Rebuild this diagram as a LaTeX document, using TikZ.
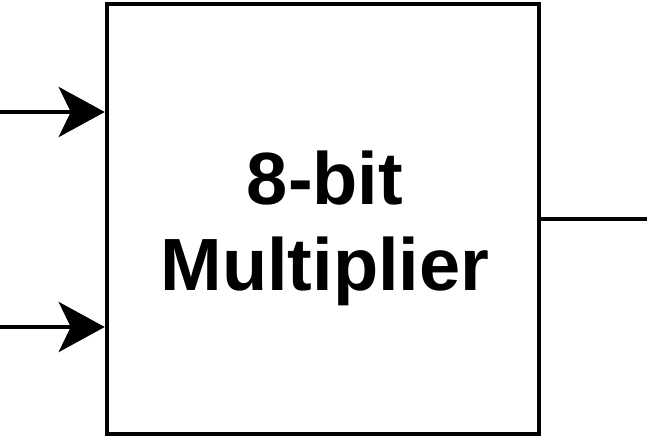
\documentclass[tikz,border=0pt]{standalone}
\usepackage{fontspec}
\setmainfont{Liberation Sans}
\usetikzlibrary{arrows.meta}
\begin{document}
\begin{tikzpicture}[x=1pt,y=-1pt,
  wire/.style={line width=4.5pt},
  inarrow/.style={wire,-{Stealth[length=46pt,width=50pt,inset=12pt]}},
  block/.style={draw,line width=4.5pt,minimum width=432pt,minimum height=430pt,inner sep=0pt},
  lbl/.style={inner sep=0pt,font=\fontsize{74pt}{86pt}\selectfont\bfseries,align=center}]
\useasboundingbox (0,0) rectangle (650,439);
\node[block] (m) at (323,219) {};
\node[lbl] (t) at (325,228) {8-bit\\Multiplier};
\coordinate (a1) at (0,112);
\coordinate (a2) at (0,327);
\coordinate (o) at (647,219);
\draw[inarrow] (a1) -- (a1 -| m.west);
\draw[inarrow] (a2) -- (a2 -| m.west);
\draw[wire] (m.east) -- (o);
\end{tikzpicture}
\end{document}
